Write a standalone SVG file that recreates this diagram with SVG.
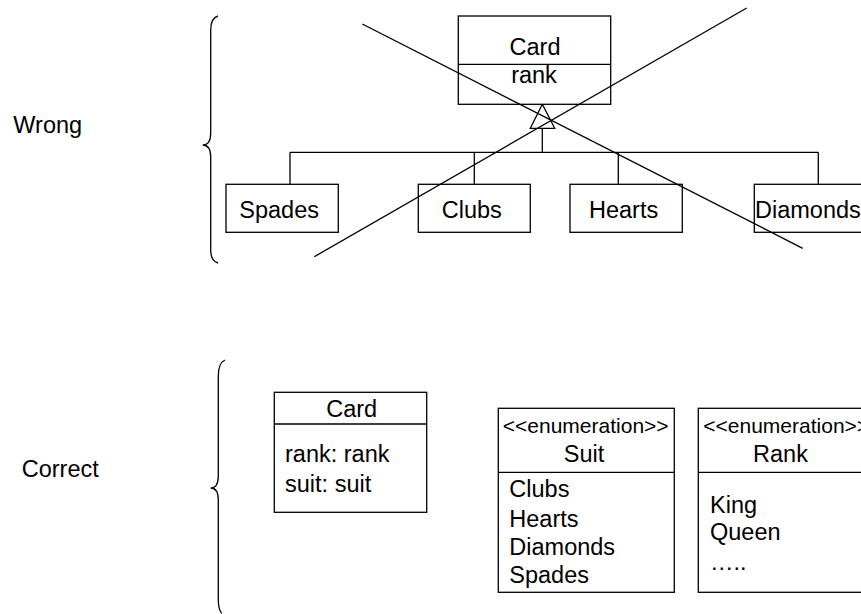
<svg xmlns="http://www.w3.org/2000/svg" width="861" height="614" viewBox="0 0 861 614">
<style>
.t{font-family:"Liberation Sans",Arial,sans-serif;font-size:23.5px;fill:#000}
.s{font-family:"Liberation Sans",Arial,sans-serif;font-size:21px;fill:#000}
.b{fill:#fff;stroke:#000;stroke-width:1.3}
.l{fill:none;stroke:#000;stroke-width:1.3}
.m{text-anchor:middle}
</style>
<rect width="861" height="614" fill="#fff"/>
<text class="t" x="13.3" y="133.3">Wrong</text>
<text class="t" x="21.7" y="476.7">Correct</text>
<path class="l" d="M218,16 Q210.7,18 210.7,30 L210.7,133 Q210.7,145 202.7,145 Q210.7,145 210.7,157 L210.7,250 Q210.7,261 218,263"/>
<path class="l" d="M225,360 Q218.3,363 218.3,376 L218.3,476 Q218.3,488 210.7,488 Q218.3,488 218.3,500 L218.3,600 Q218.3,609 221.7,613.3"/>
<g id="connectors">
<path class="l" d="M542.3,128.3 V152.3 M290,152.3 H818.3 M290,152.3 V184.3 M474.3,152.3 V184.3 M618.3,152.3 V184.3 M818.3,152.3 V184.3"/>
<polygon class="b" points="542.3,104.3 530.3,128.3 554.7,128.3"/>
</g>
<g id="card-wrong">
<rect class="b" x="458.3" y="16" width="152.4" height="88.3"/>
<line class="l" x1="458.3" y1="64.3" x2="610.7" y2="64.3"/>
<text class="t m" x="535" y="55">Card</text>
<text class="t m" x="534" y="83.3">rank</text>
</g>
<g id="spades"><rect class="b" x="226" y="184.3" width="112.3" height="48"/><text class="t" x="239.3" y="218.3">Spades</text></g>
<g id="clubs"><rect class="b" x="418.3" y="184.3" width="112" height="48"/><text class="t" x="441.7" y="218.3">Clubs</text></g>
<g id="hearts"><rect class="b" x="570" y="184.3" width="112.3" height="48"/><text class="t" x="589" y="218.3">Hearts</text></g>
<g id="diamonds"><rect class="b" x="754.3" y="184.3" width="112" height="48"/><text class="t" x="755" y="218.3">Diamonds</text></g>
<g id="cross">
<line class="l" x1="362.3" y1="24" x2="802.7" y2="248.3"/>
<line class="l" x1="314.3" y1="256.7" x2="746.7" y2="8"/>
</g>
<g id="card-correct">
<rect class="b" x="274.3" y="392.3" width="152.4" height="120"/>
<line class="l" x1="274.3" y1="424" x2="426.7" y2="424"/>
<text class="t m" x="351.7" y="417.3">Card</text>
<text class="t" x="285" y="462.3">rank: rank</text>
<text class="t" x="285" y="491.7">suit: suit</text>
</g>
<g id="suit">
<rect class="b" x="498.3" y="408.3" width="176" height="184"/>
<line class="l" x1="498.3" y1="472.3" x2="674.3" y2="472.3"/>
<text class="s m" x="585.7" y="433.3">&lt;&lt;enumeration&gt;&gt;</text>
<text class="t m" x="584" y="461.7">Suit</text>
<text class="t" x="509.3" y="497.3">Clubs</text>
<text class="t" x="509.3" y="526.7">Hearts</text>
<text class="t" x="509.3" y="555">Diamonds</text>
<text class="t" x="509.3" y="583.3">Spades</text>
</g>
<g id="rank">
<rect class="b" x="698.3" y="408.3" width="176" height="184"/>
<line class="l" x1="698.3" y1="472.3" x2="874.3" y2="472.3"/>
<text class="s" x="703.3" y="433.3">&lt;&lt;enumeration&gt;&gt;</text>
<text class="t m" x="780.5" y="461.7">Rank</text>
<text class="t" x="710" y="513.3">King</text>
<text class="t" x="710" y="540">Queen</text>
<text class="t" x="710" y="570">…..</text>
</g>
</svg>
